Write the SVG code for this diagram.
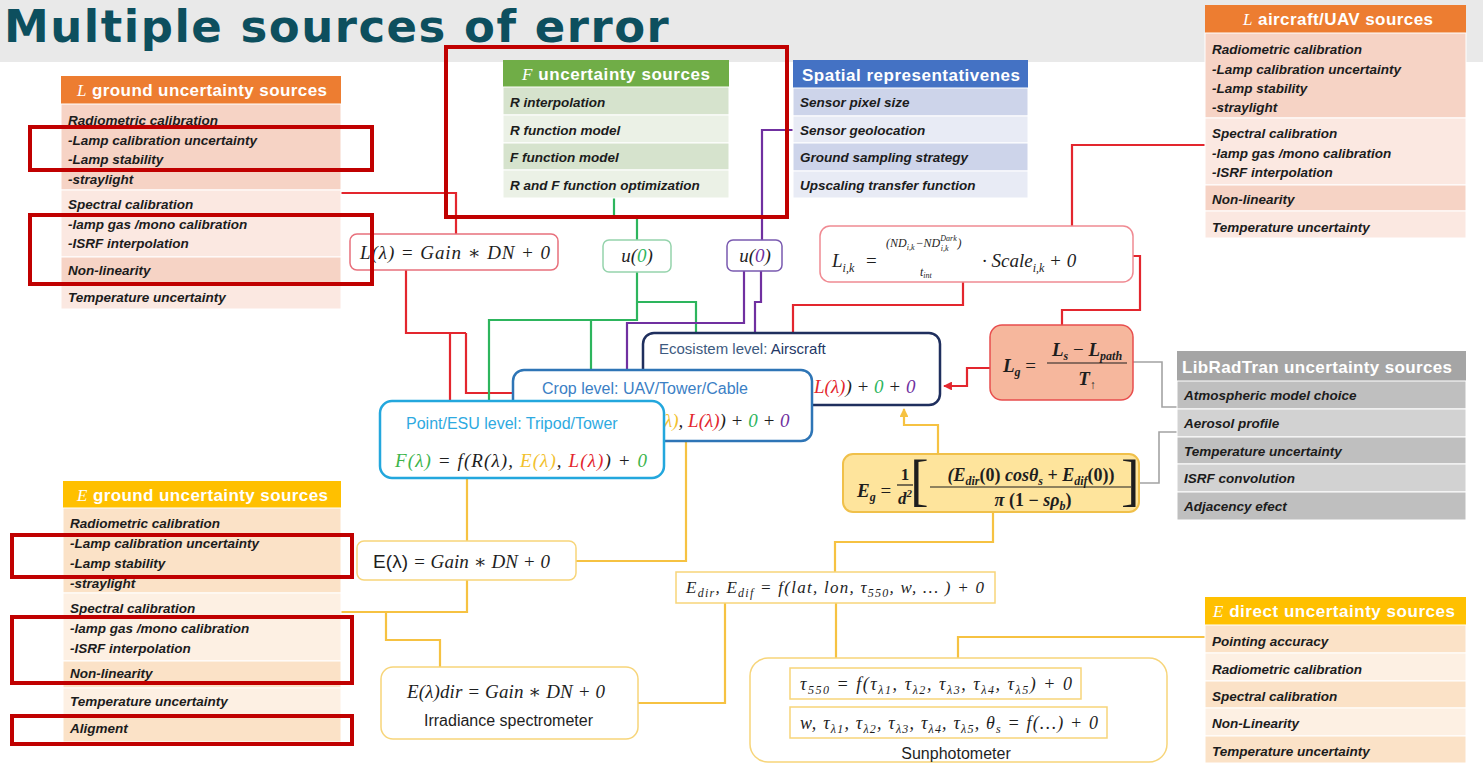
<svg xmlns="http://www.w3.org/2000/svg" width="1483" height="765" viewBox="0 0 1483 765">
<defs>
<style>
.hd{font-family:"Liberation Sans",Arial,sans-serif;font-weight:bold;font-size:17px;fill:#fff}
.hv{font-family:"Liberation Serif",serif;font-style:italic;font-weight:normal}
.rt{font-family:"Liberation Sans",Arial,sans-serif;font-weight:bold;font-style:italic;font-size:13.5px;fill:#1c1c1c}
.m{font-family:"Liberation Serif","DejaVu Serif",serif;font-style:italic;font-size:19px;fill:#1e1e1e}
.up{font-style:normal}
.sb{font-size:12px}
.sans{font-family:"Liberation Sans",Arial,sans-serif;font-style:normal}
.lbl{font-family:"Liberation Sans",Arial,sans-serif;font-size:16px}
.hl{fill:none;stroke:#c00000;stroke-width:4}
.c{fill:none;stroke-width:2.2}
.red{stroke:#e3262e}
.grn{stroke:#2db55d}
.pur{stroke:#7030a0}
.yel{stroke:#f6c242}
.gry{stroke:#a3a3a3;stroke-width:1.6}
.cell{stroke:#fff;stroke-width:1}
.box{fill:#fff}
</style>
<marker id="arR" viewBox="0 0 10 10" refX="9" refY="5" markerWidth="4" markerHeight="4" orient="auto"><path d="M0,0 L10,5 L0,10 z" fill="#e3262e"/></marker>
<marker id="arY" viewBox="0 0 10 10" refX="9" refY="5" markerWidth="4" markerHeight="4" orient="auto"><path d="M0,0 L10,5 L0,10 z" fill="#f6c242"/></marker>
</defs>

<rect x="0" y="0" width="1483" height="62" fill="#e9e9e9"/>
<text x="4" y="42" font-family="DejaVu Sans,sans-serif" font-weight="bold" font-size="45" letter-spacing="1.5" fill="#0d4f5e">Multiple sources of error</text>

<g id="connectors">
<path class="c red" d="M341,193 H456 V234"/>
<path class="c red" d="M406,270 V333 H466 M450,333 V401 M466,333 V393 H513"/>
<path class="c red" d="M1205,145 H1072 V226"/>
<path class="c red" d="M963,282 V305 H793 V333"/>
<path class="c red" d="M1133,256 H1140 V310 H1062 V325"/>
<path class="c red" d="M990,368 H967 V386 H944" marker-end="url(#arR)"/>
<path class="c grn" d="M614,198 V216 H637 V240"/>
<path class="c grn" d="M637,272 V320 H489 V401 M637,302 H696 V333 M591,320 V370"/>
<path class="c pur" d="M793,130 H762 V240"/>
<path class="c pur" d="M744,271 V323 H627 V370"/>
<path class="c pur" d="M761,271 V302 H755 V333"/>
<path class="c yel" d="M467,478 V541"/>
<path class="c yel" d="M686,441 V561 H576"/>
<path class="c yel" d="M341,612 H467 V580 M386,612 V640 H440 V667"/>
<path class="c yel" d="M638,703 H725 V603"/>
<path class="c yel" d="M993,512 V542 H835 V572"/>
<path class="c yel" d="M836,603 V658"/>
<path class="c yel" d="M1205,637 H958 V658"/>
<path class="c yel" d="M938,454 V425 H904 V409" marker-end="url(#arY)"/>
<path class="c gry" d="M1133,362 H1162 V407 H1195"/>
<path class="c gry" d="M1140,483 H1159 V432 H1177"/>
</g>

<g id="l-ground">
<rect x="61" y="76" width="280" height="28" fill="#ed7d31"/>
<rect class="cell" x="61" y="104" width="280" height="86" fill="#f6d3c5"/>
<rect class="cell" x="61" y="190" width="280" height="67" fill="#fbe8e1"/>
<rect class="cell" x="61" y="257" width="280" height="26" fill="#f6d3c5"/>
<rect class="cell" x="61" y="283" width="280" height="26" fill="#fbe8e1"/>
<text class="hd" x="77" y="96" textLength="250" lengthAdjust="spacing"><tspan class="hv">L</tspan> ground uncertainty sources</text>
<text class="rt" x="68" y="125">Radiometric calibration</text>
<text class="rt" x="68" y="145">-Lamp calibration uncertainty</text>
<text class="rt" x="68" y="164">-Lamp stability</text>
<text class="rt" x="68" y="184">-straylight</text>
<text class="rt" x="68" y="209">Spectral calibration</text>
<text class="rt" x="68" y="229">-lamp gas /mono calibration</text>
<text class="rt" x="68" y="248">-ISRF interpolation</text>
<text class="rt" x="68" y="275">Non-linearity</text>
<text class="rt" x="68" y="302">Temperature uncertainty</text>
</g>

<g id="f-sources">
<rect x="503" y="60" width="226" height="27" fill="#70ad47"/>
<rect class="cell" x="503" y="87" width="226" height="28" fill="#d6e3cd"/>
<rect class="cell" x="503" y="115" width="226" height="28" fill="#ebf1e6"/>
<rect class="cell" x="503" y="143" width="226" height="27" fill="#d6e3cd"/>
<rect class="cell" x="503" y="170" width="226" height="28" fill="#ebf1e6"/>
<text class="hd" x="522" y="80" textLength="188" lengthAdjust="spacing"><tspan class="hv">F</tspan> uncertainty sources</text>
<text class="rt" x="510" y="107">R interpolation</text>
<text class="rt" x="510" y="135">R function model</text>
<text class="rt" x="510" y="162">F function model</text>
<text class="rt" x="510" y="190">R and F function optimization</text>
</g>

<g id="spatial">
<rect x="793" y="60" width="235" height="28" fill="#4472c4"/>
<rect class="cell" x="793" y="88" width="235" height="28" fill="#cdd4ea"/>
<rect class="cell" x="793" y="116" width="235" height="27" fill="#e8ebf5"/>
<rect class="cell" x="793" y="143" width="235" height="28" fill="#cdd4ea"/>
<rect class="cell" x="793" y="171" width="235" height="27" fill="#e8ebf5"/>
<text class="hd" x="802" y="81" textLength="218" lengthAdjust="spacing">Spatial representativenes</text>
<text class="rt" x="800" y="107">Sensor pixel size</text>
<text class="rt" x="800" y="135">Sensor geolocation</text>
<text class="rt" x="800" y="162">Ground sampling strategy</text>
<text class="rt" x="800" y="190">Upscaling transfer function</text>
</g>

<g id="l-aircraft">
<rect x="1205" y="5" width="261" height="28" fill="#ed7d31"/>
<rect class="cell" x="1205" y="33" width="261" height="85" fill="#f6d3c5"/>
<rect class="cell" x="1205" y="118" width="261" height="67" fill="#fbe8e1"/>
<rect class="cell" x="1205" y="185" width="261" height="26" fill="#f6d3c5"/>
<rect class="cell" x="1205" y="211" width="261" height="27" fill="#fbe8e1"/>
<text class="hd" x="1243" y="25" textLength="190" lengthAdjust="spacing"><tspan class="hv">L</tspan> aircraft/UAV sources</text>
<text class="rt" x="1212" y="54">Radiometric calibration</text>
<text class="rt" x="1212" y="74">-Lamp calibration uncertainty</text>
<text class="rt" x="1212" y="93">-Lamp stability</text>
<text class="rt" x="1212" y="112">-straylight</text>
<text class="rt" x="1212" y="138">Spectral calibration</text>
<text class="rt" x="1212" y="158">-lamp gas /mono calibration</text>
<text class="rt" x="1212" y="177">-ISRF interpolation</text>
<text class="rt" x="1212" y="204">Non-linearity</text>
<text class="rt" x="1212" y="232">Temperature uncertainty</text>
</g>

<g id="librad">
<rect x="1177" y="351" width="289" height="30" fill="#a5a5a5"/>
<rect class="cell" x="1177" y="381" width="289" height="28" fill="#bfbfbf"/>
<rect class="cell" x="1177" y="409" width="289" height="28" fill="#d2d2d2"/>
<rect class="cell" x="1177" y="437" width="289" height="27" fill="#bfbfbf"/>
<rect class="cell" x="1177" y="464" width="289" height="28" fill="#d2d2d2"/>
<rect class="cell" x="1177" y="492" width="289" height="28" fill="#bfbfbf"/>
<text class="hd" x="1182" y="373" textLength="270" lengthAdjust="spacing">LibRadTran uncertainty sources</text>
<text class="rt" x="1184" y="400">Atmospheric model choice</text>
<text class="rt" x="1184" y="428">Aerosol profile</text>
<text class="rt" x="1184" y="456">Temperature uncertainty</text>
<text class="rt" x="1184" y="483">ISRF convolution</text>
<text class="rt" x="1184" y="511">Adjacency efect</text>
</g>

<g id="e-ground">
<rect x="63" y="481" width="278" height="27" fill="#ffc000"/>
<rect class="cell" x="63" y="508" width="278" height="85" fill="#fbe2c7"/>
<rect class="cell" x="63" y="593" width="278" height="68" fill="#fdf0e3"/>
<rect class="cell" x="63" y="661" width="278" height="27" fill="#fbe2c7"/>
<rect class="cell" x="63" y="688" width="278" height="27" fill="#fdf0e3"/>
<rect class="cell" x="63" y="715" width="278" height="27" fill="#fbe2c7"/>
<text class="hd" x="77" y="501" textLength="251" lengthAdjust="spacing"><tspan class="hv">E</tspan> ground uncertainty sources</text>
<text class="rt" x="70" y="528">Radiometric calibration</text>
<text class="rt" x="70" y="548">-Lamp calibration uncertainty</text>
<text class="rt" x="70" y="568">-Lamp stability</text>
<text class="rt" x="70" y="588">-straylight</text>
<text class="rt" x="70" y="613">Spectral calibration</text>
<text class="rt" x="70" y="633">-lamp gas /mono calibration</text>
<text class="rt" x="70" y="653">-ISRF interpolation</text>
<text class="rt" x="70" y="678">Non-linearity</text>
<text class="rt" x="70" y="706">Temperature uncertainty</text>
<text class="rt" x="70" y="733">Aligment</text>
</g>

<g id="e-direct">
<rect x="1205" y="597" width="261" height="28" fill="#ffc000"/>
<rect class="cell" x="1205" y="625" width="261" height="28" fill="#fbe2c7"/>
<rect class="cell" x="1205" y="653" width="261" height="28" fill="#fdf0e3"/>
<rect class="cell" x="1205" y="681" width="261" height="27" fill="#fbe2c7"/>
<rect class="cell" x="1205" y="708" width="261" height="28" fill="#fdf0e3"/>
<rect class="cell" x="1205" y="736" width="261" height="27" fill="#fbe2c7"/>
<text class="hd" x="1213" y="617" textLength="242" lengthAdjust="spacing"><tspan class="hv">E</tspan> direct uncertainty sources</text>
<text class="rt" x="1212" y="646">Pointing accuracy</text>
<text class="rt" x="1212" y="674">Radiometric calibration</text>
<text class="rt" x="1212" y="701">Spectral calibration</text>
<text class="rt" x="1212" y="728">Non-Linearity</text>
<text class="rt" x="1212" y="756">Temperature uncertainty</text>
</g>

<g id="l-eq">
<rect class="box" x="350" y="234" width="208" height="36" rx="7" stroke="#e8707c" stroke-width="1.5"/>
<text class="m" x="360" y="259" textLength="190" lengthAdjust="spacing">L(λ) = Gain ∗ DN + 0</text>
</g>

<g id="u0-green">
<rect class="box" x="603" y="240" width="68" height="32" rx="6" stroke="#95d3ac" stroke-width="1.5"/>
<text class="m" x="637" y="262" text-anchor="middle">u(<tspan fill="#2db55d">0</tspan>)</text>
</g>

<g id="u0-purple">
<rect class="box" x="727" y="240" width="55" height="31" rx="6" stroke="#7a5ab0" stroke-width="1.5"/>
<text class="m" x="755" y="262" text-anchor="middle">u(<tspan fill="#7030a0">0</tspan>)</text>
</g>

<g id="lik-eq">
<rect class="box" x="820" y="226" width="313" height="56" rx="10" stroke="#f08a92" stroke-width="1.5"/>
<text class="m" x="832" y="267">L<tspan class="sb" dy="5">i,k</tspan></text>
<text class="m up" x="866" y="267">=</text>
<text class="m" style="font-size:12px" x="886" y="247">(ND<tspan style="font-size:8px" dy="3">i,k</tspan><tspan dy="-3" dx="1">−ND</tspan><tspan style="font-size:8px" dy="-6">Dark</tspan><tspan style="font-size:8px" dx="-16" dy="10">i,k</tspan><tspan dy="-4" dx="9">)</tspan></text>
<text class="m" style="font-size:12px" x="920" y="276">t<tspan style="font-size:8px" dy="2">int</tspan></text>
<text class="m" x="982" y="267">· Scale<tspan class="sb" dy="5">i,k</tspan><tspan dy="-5"> + 0</tspan></text>
</g>

<g id="lg-eq">
<rect x="990" y="325" width="143" height="75" rx="12" fill="#f6b79d" stroke="#e84e4e" stroke-width="1.5"/>
<text class="m" x="1003" y="372" font-weight="bold">L<tspan class="sb" dy="4">g</tspan><tspan class="up" dy="-4" font-weight="normal"> =</tspan></text>
<text class="m" x="1087" y="356" text-anchor="middle" font-weight="bold">L<tspan class="sb" dy="4">s</tspan><tspan class="up" dy="-4" font-weight="normal"> − </tspan>L<tspan class="sb" dy="4">path</tspan></text>
<line x1="1047" y1="363" x2="1127" y2="363" stroke="#1e1e1e" stroke-width="1.2"/>
<text class="m" x="1087" y="385" text-anchor="middle" font-weight="bold">T<tspan class="sb" dy="4">↑</tspan></text>
</g>

<g id="ecosystem">
<rect class="box" x="643" y="333" width="297" height="72" rx="11" stroke="#1f2f5e" stroke-width="2.5"/>
<text class="lbl" x="659" y="354" style="font-size:15px" fill="#3d5a80">Ecosistem level: <tspan fill="#243766">Airscraft</tspan></text>
<text class="m" x="814" y="393"><tspan fill="#e3262e">L(λ)</tspan>) + <tspan fill="#2db55d">0</tspan> + <tspan fill="#7030a0">0</tspan></text>
</g>

<g id="crop">
<rect class="box" x="513" y="370" width="299" height="71" rx="11" stroke="#2e75b6" stroke-width="2.5"/>
<text class="lbl" x="542" y="394" fill="#3b80c5">Crop level: UAV/Tower/Cable</text>
<text class="m" x="664" y="427"><tspan fill="#f2c12e">λ)</tspan>, <tspan fill="#e3262e">L(λ)</tspan>) + <tspan fill="#2db55d">0</tspan> + <tspan fill="#7030a0">0</tspan></text>
</g>

<g id="point">
<rect class="box" x="380" y="401" width="284" height="77" rx="12" stroke="#23a7dd" stroke-width="2.5"/>
<text class="lbl" x="406" y="429" fill="#2eaae1">Point/ESU level: Tripod/Tower</text>
<text class="m" x="395" y="467" textLength="252" lengthAdjust="spacing"><tspan fill="#3cb44b">F(λ)</tspan> = f(R(λ), <tspan fill="#f2c12e">E(λ)</tspan>, <tspan fill="#e3262e">L(λ)</tspan>) + <tspan fill="#3cb44b">0</tspan></text>
</g>

<g id="eg-eq">
<rect x="843" y="454" width="296" height="58" rx="10" fill="#fee49c" stroke="#f0c04a" stroke-width="2"/>
<text class="m" x="857" y="497" font-weight="bold">E<tspan class="sb" dy="4">g</tspan><tspan class="up" dy="-4" font-weight="normal"> =</tspan></text>
<text class="m up" x="905" y="480" text-anchor="middle" font-weight="bold" style="font-size:17px">1</text>
<line x1="897" y1="485" x2="913" y2="485" stroke="#1e1e1e" stroke-width="1.2"/>
<text class="m" x="905" y="504" text-anchor="middle" font-weight="bold" style="font-size:17px">d<tspan style="font-size:11px" dy="-7">2</tspan></text>
<text class="m up" x="910" y="499" style="font-size:56px">[</text>
<text class="m" x="1031" y="481" text-anchor="middle" font-weight="bold" style="font-size:18px">(E<tspan class="sb" dy="4">dir</tspan><tspan class="up" dy="-4">(0)</tspan> cosθ<tspan class="sb" dy="4">s</tspan><tspan class="up" dy="-4"> + </tspan>E<tspan class="sb" dy="4">dif</tspan><tspan class="up" dy="-4">(0))</tspan></text>
<line x1="930" y1="487" x2="1131" y2="487" stroke="#1e1e1e" stroke-width="1.2"/>
<text class="m" x="1033" y="506" text-anchor="middle" font-weight="bold" style="font-size:18px">π <tspan class="up">(1 − </tspan>sρ<tspan class="sb" dy="4">b</tspan><tspan class="up" dy="-4">)</tspan></text>
<text class="m up" x="1121" y="499" style="font-size:56px">]</text>
</g>

<g id="e-eq">
<rect class="box" x="357" y="541" width="219" height="39" rx="7" stroke="#f7d57a" stroke-width="1.5"/>
<text class="m" x="373" y="568" textLength="177" lengthAdjust="spacing"><tspan class="sans">E(λ)</tspan> = Gain ∗ DN + 0</text>
</g>

<g id="edir-eq">
<rect class="box" x="676" y="572" width="319" height="31" stroke="#f7d57a" stroke-width="1.5"/>
<text class="m" x="686" y="593" style="font-size:17px" textLength="298" lengthAdjust="spacing">E<tspan class="sb" dy="4">dir</tspan><tspan dy="-4">, E</tspan><tspan class="sb" dy="4">dif</tspan><tspan dy="-4"> = f(lat, lon, τ</tspan><tspan class="sb" dy="4">550</tspan><tspan dy="-4">, w, … ) + 0</tspan></text>
</g>

<g id="irradiance">
<rect class="box" x="381" y="667" width="257" height="72" rx="12" stroke="#f7d57a" stroke-width="1.5"/>
<text class="m" x="407" y="698" textLength="198" lengthAdjust="spacing">E(λ)dir = Gain ∗ DN + 0</text>
<text class="lbl" x="424" y="726" fill="#1e1e1e">Irradiance spectrometer</text>
</g>

<g id="sunphotometer">
<rect class="box" x="750" y="658" width="417" height="104" rx="18" stroke="#f7d57a" stroke-width="1.5"/>
<rect class="box" x="790" y="668" width="291" height="31" stroke="#f7d57a" stroke-width="1.5"/>
<text class="m" x="800" y="690" style="font-size:18px" textLength="272" lengthAdjust="spacing">τ<tspan class="sb" dy="4">550</tspan><tspan dy="-4"> = f(τ</tspan><tspan class="sb" dy="4">λ1</tspan><tspan dy="-4">, τ</tspan><tspan class="sb" dy="4">λ2</tspan><tspan dy="-4">, τ</tspan><tspan class="sb" dy="4">λ3</tspan><tspan dy="-4">, τ</tspan><tspan class="sb" dy="4">λ4</tspan><tspan dy="-4">, τ</tspan><tspan class="sb" dy="4">λ5</tspan><tspan dy="-4">) + 0</tspan></text>
<rect class="box" x="790" y="707" width="317" height="31" stroke="#f7d57a" stroke-width="1.5"/>
<text class="m" x="800" y="729" style="font-size:18px" textLength="298" lengthAdjust="spacing">w, τ<tspan class="sb" dy="4">λ1</tspan><tspan dy="-4">, τ</tspan><tspan class="sb" dy="4">λ2</tspan><tspan dy="-4">, τ</tspan><tspan class="sb" dy="4">λ3</tspan><tspan dy="-4">, τ</tspan><tspan class="sb" dy="4">λ4</tspan><tspan dy="-4">, τ</tspan><tspan class="sb" dy="4">λ5</tspan><tspan dy="-4">, θ</tspan><tspan class="sb" dy="4">s</tspan><tspan dy="-4"> = f(…) + 0</tspan></text>
<text class="lbl" x="956" y="759" text-anchor="middle" fill="#1e1e1e">Sunphotometer</text>
</g>

<g id="highlights">
<rect class="hl" x="446" y="47" width="341" height="170"/>
<rect class="hl" x="30" y="127" width="342" height="43"/>
<rect class="hl" x="30" y="215" width="342" height="69"/>
<rect class="hl" x="12" y="535" width="340" height="42"/>
<rect class="hl" x="12" y="617" width="340" height="66"/>
<rect class="hl" x="12" y="716" width="340" height="28"/>
</g>
</svg>
